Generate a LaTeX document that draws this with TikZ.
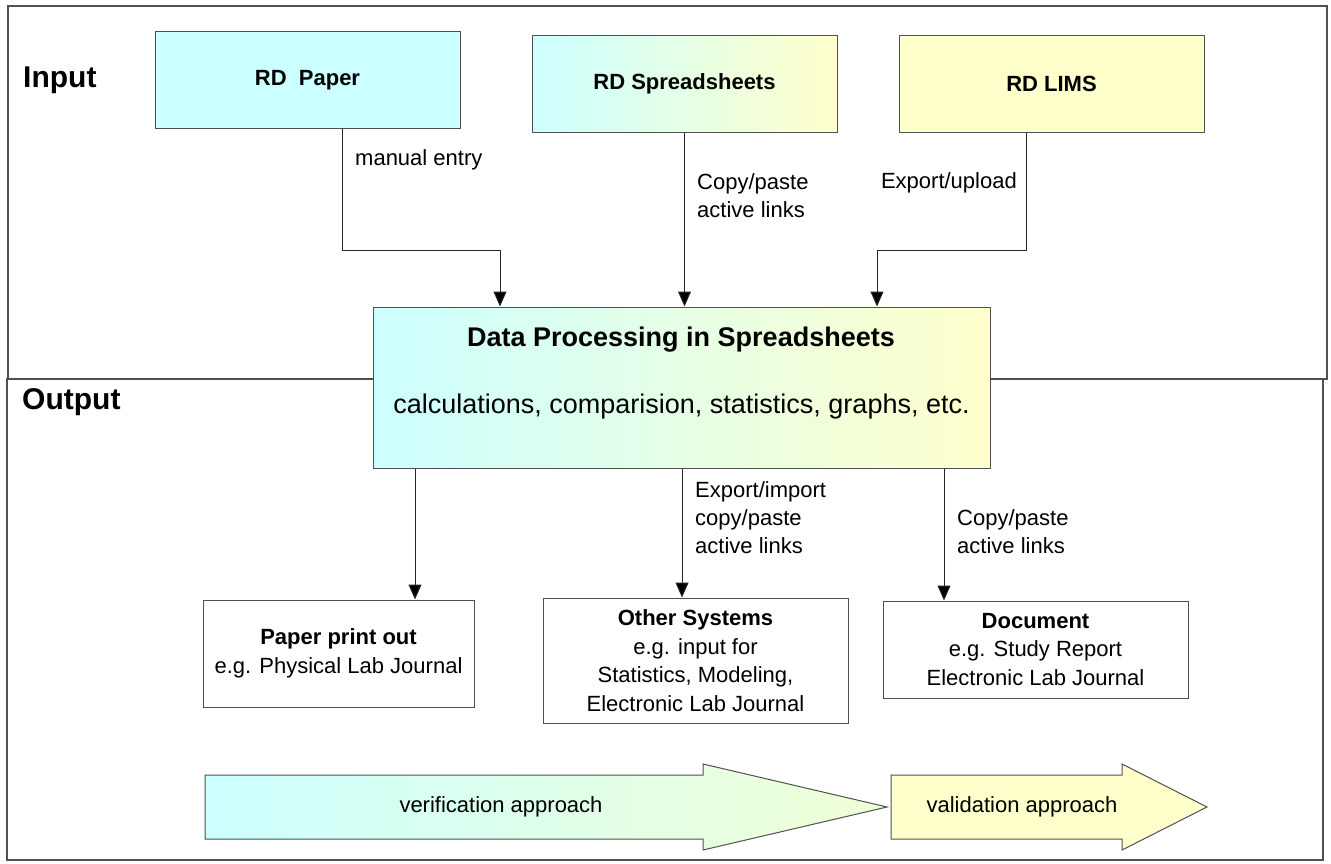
\documentclass[tikz,border=0pt]{standalone}
\usepackage{fontspec}
\setmainfont{Liberation Sans}
\usetikzlibrary{arrows.meta}
\definecolor{paleCyan}{RGB}{204,255,255}
\definecolor{paleYellow}{RGB}{255,255,204}
\definecolor{paleGreen}{RGB}{240,255,214}
\definecolor{frameGray}{RGB}{80,80,80}

\begin{document}
\begin{tikzpicture}[x=1pt, y=-1pt,
		frame/.style={draw=frameGray, line width=1.1pt},
		in box/.style={draw=frameGray, line width=1pt, minimum width=305pt, minimum height=97pt, inner sep=0pt, font=\bfseries\fontsize{22}{26}\selectfont},
		out box/.style={draw=frameGray, line width=1pt, inner sep=0pt, align=center, font=\fontsize{22}{28.7}\selectfont},
		flow/.style={draw=black!85, line width=1pt, -{Triangle[length=15pt,width=13pt,fill=black]}},
		lbl/.style={inner sep=0pt, align=left, font=\fontsize{22}{28}\selectfont},
		head/.style={font=\bfseries\fontsize{30}{34}\selectfont, inner sep=0pt, anchor=west},
		band/.style={draw=frameGray, line width=1pt}]
		\useasboundingbox (0,0) rectangle (1331,864);
		% input and output areas
		\draw[frame] (8,6) rectangle (1327,379);
		\draw[frame] (7,379) rectangle (1323,860);
		\node[head] (input) at (23,80) {Input};
		\node[head] (output) at (22,402) {Output};
		% sources
		\node[in box, fill=paleCyan] (paper) at (307.5,80.5) {RD\ \ Paper};
		\node[in box, left color=paleCyan, right color=paleYellow] (sheets) at (684.5,84) {RD Spreadsheets};
		\node[in box, fill=paleYellow] (lims) at (1051.5,84) {RD LIMS};
		% processing
		\node[draw=frameGray, line width=1pt, minimum width=617pt, minimum height=161pt, left color=paleCyan, right color=paleYellow] (data) at (681.5,387.5) {};
		\node[font=\bfseries\fontsize{27}{30}\selectfont, inner sep=0pt] (dtitle) at (681,340) {Data Processing in Spreadsheets};
		\node[font=\fontsize{27}{30}\selectfont, inner sep=0pt] (dsub) at (681.5,407) {calculations, comparision, statistics, graphs, etc.};
		% bends
		\coordinate (k1) at (342,250);
		\coordinate (k2) at (500,250);
		\coordinate (k3) at (1026,250);
		\coordinate (k4) at (877,250);
		\draw[flow] (paper.south -| k1) -- (k1) -- (k2) -- (data.north -| k2);
		\draw[flow] (sheets.south) -- (data.north -| sheets.south);
		\draw[flow] (lims.south -| k3) -- (k3) -- (k4) -- (data.north -| k4);
		\node[lbl, anchor=west] (lmanual) at (355,160) {manual entry};
		\node[lbl, anchor=west] (lcopy) at (697,196) {Copy/paste\\active links};
		\node[lbl, anchor=east] (lexport) at (1017,183) {Export/upload};
		% results
		\node[out box, minimum width=271pt, minimum height=107pt] (print) at (338.5,653.5) {\textbf{Paper print out}\\e.g. Physical Lab Journal};
		\node[out box, minimum width=305pt, minimum height=125pt] (other) at (695.5,660.5) {\textbf{Other Systems}\\e.g. input for\\Statistics, Modeling,\\Electronic Lab Journal};
		\node[out box, minimum width=305pt, minimum height=97pt] (doc) at (1035.5,649.5) {\textbf{Document}\\e.g. Study Report\\Electronic Lab Journal};
		\coordinate (k5) at (415,0);
		\coordinate (k6) at (682,0);
		\coordinate (k7) at (944,0);
		\draw[flow] (data.south -| k5) -- (print.north -| k5);
		\draw[flow] (data.south -| k6) -- (other.north -| k6);
		\draw[flow] (data.south -| k7) -- (doc.north -| k7);
		\node[lbl, anchor=west] (lexim) at (695,518) {Export/import\\copy/paste\\active links};
		\node[lbl, anchor=west] (lcopy2) at (957,532) {Copy/paste\\active links};
		% approach arrows
		\draw[band, left color=paleCyan, right color=paleGreen] (205,775) -- (703,775) -- (703,764) -- (887,807) -- (703,850) -- (703,839) -- (205,839) -- cycle;
		\draw[band, fill=paleYellow] (891,775) -- (1122,775) -- (1122,764) -- (1207,807) -- (1122,850) -- (1122,839) -- (891,839) -- cycle;
		\node[font=\fontsize{22}{26}\selectfont, inner sep=0pt] (verif) at (501,807) {verification approach};
		\node[font=\fontsize{22}{26}\selectfont, inner sep=0pt] (valid) at (1022,807) {validation approach};
	\end{tikzpicture}
\end{document}
